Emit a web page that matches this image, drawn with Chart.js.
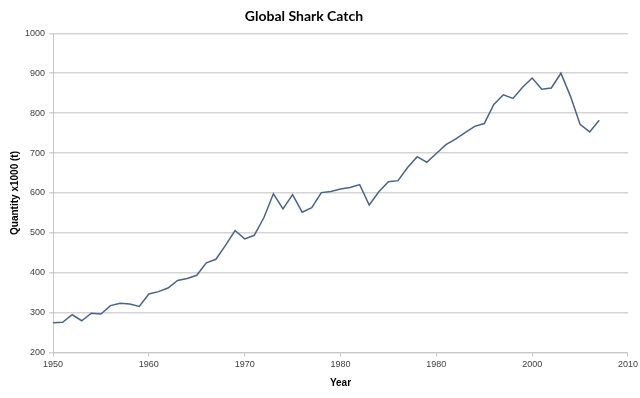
<!DOCTYPE html>
<html>
<head>
<meta charset="utf-8">
<script src="https://cdn.jsdelivr.net/npm/chart.js@4"></script>
<style>
  html, body { margin: 0; padding: 0; background: #fff; }
  #wrap { width: 640px; height: 398px; }
</style>
</head>
<body>
<div id="wrap"><canvas id="c" width="640" height="398"></canvas></div>
<script>
const chartTitle = 'Global Shark Catch';
const xTitle = 'Year';
const yTitle = 'Quantity x1000 (t)';

const years = [
  1950, 1951, 1952, 1953, 1954, 1955, 1956, 1957, 1958, 1959,
  1960, 1961, 1962, 1963, 1964, 1965, 1966, 1967, 1968, 1969,
  1970, 1971, 1972, 1973, 1974, 1975, 1976, 1977, 1978, 1979,
  1980, 1981, 1982, 1983, 1984, 1985, 1986, 1987, 1988, 1989,
  1990, 1991, 1992, 1993, 1994, 1995, 1996, 1997, 1998, 1999,
  2000, 2001, 2002, 2003, 2004, 2005, 2006, 2007
];
const catchValues = [
  275, 276, 295, 280, 299, 297, 318, 324, 322, 316,
  347, 353, 362, 381, 386, 394, 425, 434, 469, 506,
  485, 494, 538, 598, 560, 596, 552, 563, 601, 604,
  610, 614, 621, 570, 603, 628, 631, 664, 691, 677,
  699, 721, 735, 751, 767, 774, 822, 846, 837, 865,
  888, 860, 863, 900, 842, 772, 753, 782
];
const xTickValues = [1950, 1960, 1970, 1980, 1990, 2000, 2010];
const xTickLabels = ['1950', '1960', '1970', '1980', '1980', '2000', '2010'];
const yTickValues = [200, 300, 400, 500, 600, 700, 800, 900, 1000];

const points = years.map((y, i) => ({ x: y, y: catchValues[i] }));

const titlePlugin = {
  id: 'customTitle',
  afterDraw(chart) {
    const ctx = chart.ctx;
    ctx.save();
    ctx.font = 'bold 14px Lato, "Liberation Sans", sans-serif';
    ctx.fillStyle = '#000';
    ctx.textAlign = 'center';
    ctx.textBaseline = 'middle';
    ctx.fillText(chartTitle, 304, 16);
    ctx.restore();
  }
};

new Chart(document.getElementById('c'), {
  type: 'line',
  data: {
    datasets: [{
      label: 'Global shark catch',
      data: points,
      borderColor: '#4a6486',
      borderWidth: 1.5,
      pointRadius: 0,
      tension: 0,
      fill: false
    }]
  },
  options: {
    responsive: false,
    animation: false,
    devicePixelRatio: 1,
    layout: { padding: { top: 33.3, right: 11, bottom: 0, left: 0 } },
    plugins: {
      legend: { display: false },
      title: { display: false },
      tooltip: { enabled: false }
    },
    scales: {
      x: {
        type: 'linear',
        min: 1950,
        max: 2010,
        afterBuildTicks(scale) {
          scale.ticks = xTickValues.map(v => ({ value: v }));
        },
        afterFit(scale) { scale.height = 45.3; },
        ticks: {
          autoSkip: false,
          maxRotation: 0,
          padding: 2,
          color: '#404040',
          font: { family: '"Liberation Sans", sans-serif', size: 9 },
          callback(value) {
            const i = xTickValues.indexOf(value);
            return i >= 0 ? xTickLabels[i] : '';
          }
        },
        grid: {
          drawOnChartArea: false,
          drawTicks: true,
          tickLength: 4,
          color: '#c8c8c8'
        },
        border: { display: true, color: '#c8c8c8', width: 1 },
        title: {
          display: true,
          text: xTitle,
          color: '#000',
          font: { family: '"Liberation Sans", sans-serif', size: 10, weight: 'bold' },
          padding: { top: 0, bottom: 8.7 }
        }
      },
      y: {
        type: 'linear',
        min: 200,
        max: 1000,
        afterBuildTicks(scale) {
          scale.ticks = yTickValues.map(v => ({ value: v }));
        },
        afterFit(scale) { scale.width = 53; },
        ticks: {
          padding: 4,
          color: '#404040',
          font: { family: '"Liberation Sans", sans-serif', size: 9 },
          callback(value) { return String(value); }
        },
        grid: {
          drawTicks: true,
          tickLength: 4,
          color: '#d4d4d4',
          lineWidth: 1.5
        },
        border: { display: true, color: '#c8c8c8', width: 1 },
        title: {
          display: true,
          text: yTitle,
          color: '#000',
          font: { family: '"Liberation Sans", sans-serif', size: 10, weight: 'bold' },
          padding: { top: 9, bottom: 0 }
        }
      }
    }
  },
  plugins: [titlePlugin]
});
</script>
</body>
</html>
